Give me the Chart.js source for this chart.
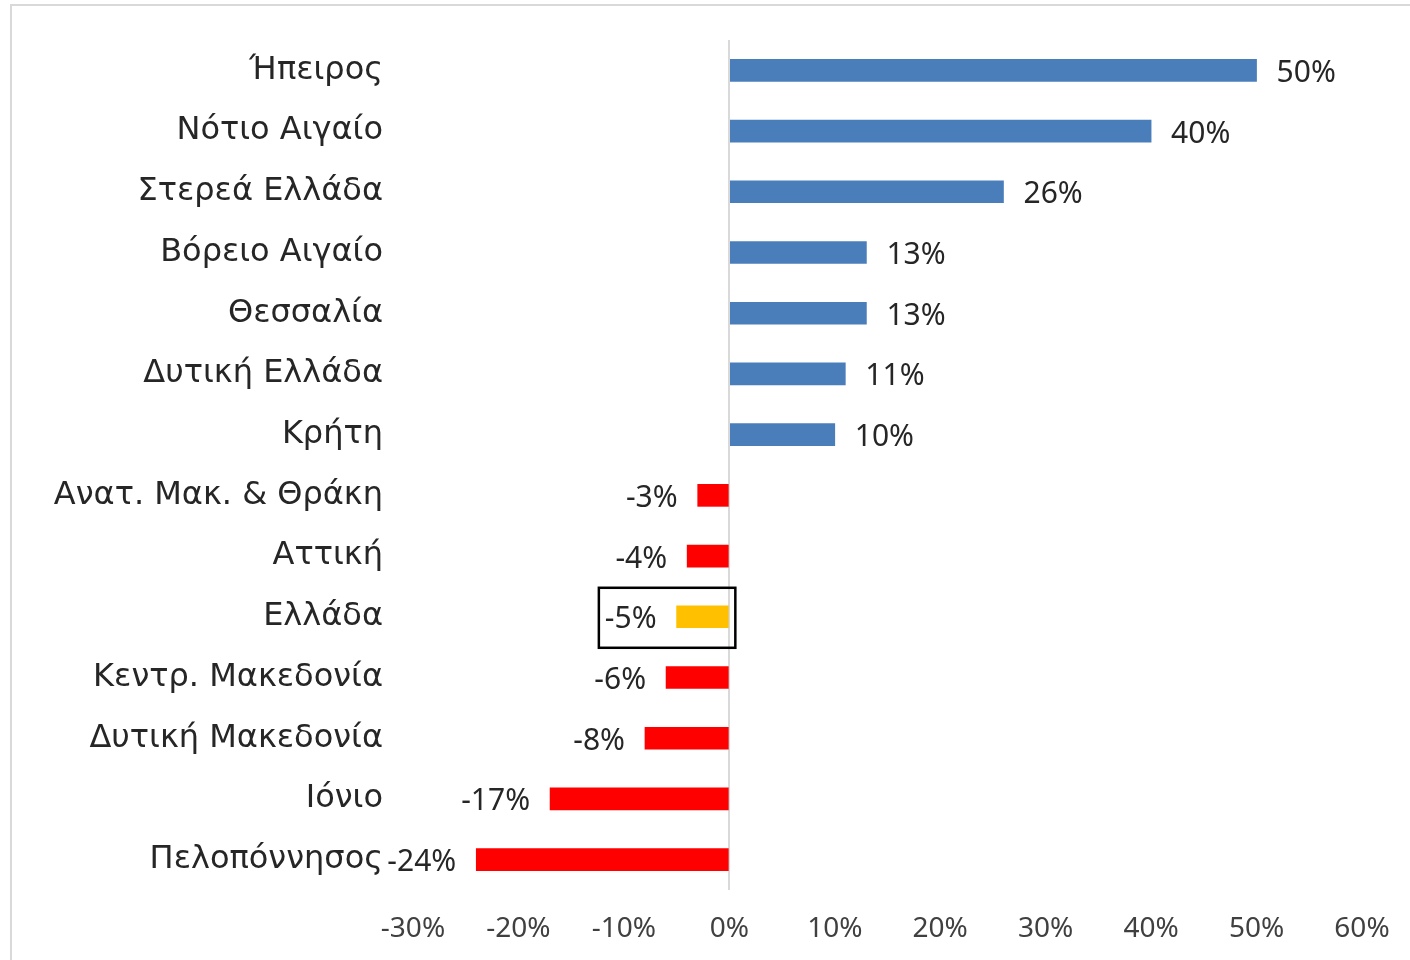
<!DOCTYPE html>
<html>
<head>
<meta charset="utf-8">
<script src="https://cdn.jsdelivr.net/npm/chart.js@4.4.0/dist/chart.umd.min.js"></script>
<style>
  html, body { margin: 0; padding: 0; background: #fff; overflow: hidden; }
  #frame { position: absolute; left: 10px; top: 4px; width: 1420px; height: 980px; border: 2px solid #d9d9d9; }
  #wrap { position: absolute; left: 0; top: 0; width: 1410px; height: 960px; }
</style>
</head>
<body>
<div id="frame"></div>
<div id="wrap"><canvas id="chart"></canvas></div>
<script>
// regions, sorted as in the original
var REGIONS = ['Ήπειρος', 'Νότιο Αιγαίο', 'Στερεά Ελλάδα', 'Βόρειο Αιγαίο', 'Θεσσαλία', 'Δυτική Ελλάδα', 'Κρήτη',
  'Ανατ. Μακ. & Θράκη', 'Αττική', 'Ελλάδα', 'Κεντρ. Μακεδονία', 'Δυτική Μακεδονία', 'Ιόνιο', 'Πελοπόννησος'];
var CHANGE = [50, 40, 26, 13, 13, 11, 10, -3, -4, -5, -6, -8, -17, -24];
var HIGHLIGHT = 'Ελλάδα';
var X_TICKS = [-30, -20, -10, 0, 10, 20, 30, 40, 50, 60];

var BLUE = '#4a7ebb', RED = '#ff0000', GOLD = '#ffc000';
var FONT = '"Noto Sans", "DejaVu Sans", sans-serif';
var CAT_FONT = '"DejaVu Sans", "Noto Sans", sans-serif';

function $(id) { return document.getElementById(id); }

var barColors = REGIONS.map(function (r, i) {
  if (r === HIGHLIGHT) return GOLD;
  return CHANGE[i] >= 0 ? BLUE : RED;
});

// value labels next to the bar ends + box round the highlighted row
var valueLabels = {
  id: 'valueLabels',
  afterDatasetsDraw: function (chart) {
    var ctx = chart.ctx;
    var meta = chart.getDatasetMeta(0);
    ctx.save();
    ctx.font = '30px ' + FONT;
    ctx.fillStyle = '#262626';
    ctx.textBaseline = 'middle';
    meta.data.forEach(function (el, i) {
      var v = CHANGE[i];
      var txt = v + '%';
      if (v >= 0) {
        ctx.textAlign = 'left';
        ctx.fillText(txt, el.x + 20, el.y + 3);
      } else {
        ctx.textAlign = 'right';
        ctx.fillText(txt, el.x - 20, el.y + 3);
      }
      if (REGIONS[i] === HIGHLIGHT) {
        var w = ctx.measureText(txt).width;
        var zero = chart.scales.x.getPixelForValue(0);
        var left = el.x - 20 - w - 6;
        ctx.strokeStyle = '#000';
        ctx.lineWidth = 2.5;
        ctx.strokeRect(left, el.y - 29, zero + 6 - left, 60);
      }
    });
    ctx.restore();
  }
};

new Chart($('chart'), {
  type: 'bar',
  data: {
    labels: REGIONS,
    datasets: [{
      data: CHANGE,
      backgroundColor: barColors,
      borderWidth: 0,
      barThickness: 22
    }]
  },
  options: {
    indexAxis: 'y',
    responsive: true,
    maintainAspectRatio: false,
    animation: false,
    layout: { padding: { top: 40, right: 48, bottom: 0, left: 0 } },
    plugins: { legend: { display: false }, tooltip: { enabled: false } },
    scales: {
      x: {
        min: -30, max: 60,
        afterBuildTicks: function (s) { s.ticks = X_TICKS.map(function (v) { return { value: v }; }); },
        afterFit: function (s) { s.height = 70; s.paddingLeft = 0; s.paddingRight = 0; },
        border: { display: false },
        grid: {
          drawTicks: false,
          lineWidth: 2,
          color: function (c) { return c.tick && c.tick.value === 0 ? '#d9d9d9' : 'rgba(0,0,0,0)'; }
        },
        ticks: {
          padding: 22,
          color: '#404040',
          font: { family: FONT, size: 28 },
          callback: function (v) { return v + '%'; }
        }
      },
      y: {
        afterFit: function (s) { s.width = 413; s.paddingTop = 0; s.paddingBottom = 0; },
        border: { display: false },
        grid: { display: false, drawTicks: false },
        ticks: {
          padding: 30,
          color: '#262626',
          font: { family: CAT_FONT, size: 32 }
        }
      }
    }
  },
  plugins: [valueLabels]
});
</script>
</body>
</html>
